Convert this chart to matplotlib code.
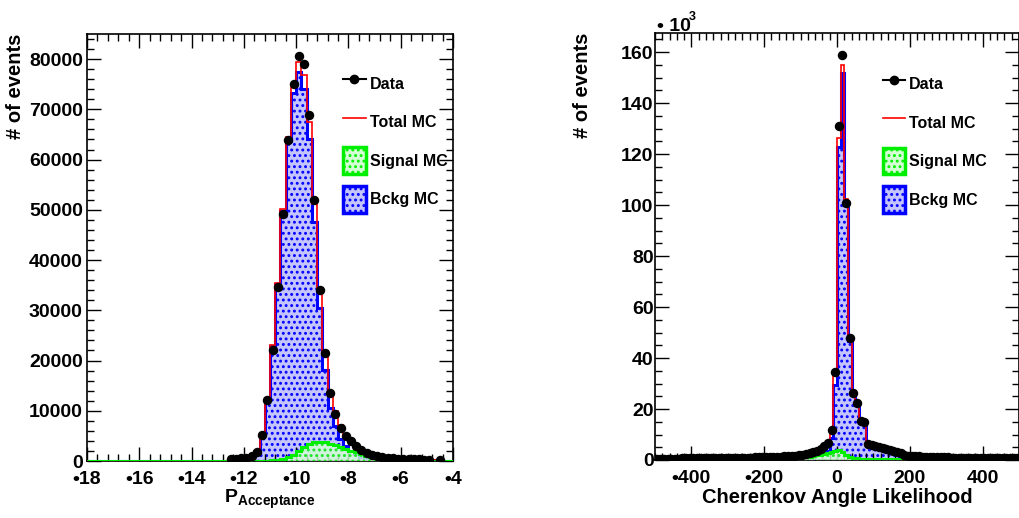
import numpy as np
import matplotlib.pyplot as plt
from matplotlib.patches import Patch
from matplotlib.lines import Line2D
from matplotlib.ticker import MultipleLocator

plt.rcParams['font.family'] = 'Liberation Sans'
plt.rcParams['font.weight'] = 'bold'
plt.rcParams['axes.labelweight'] = 'bold'
plt.rcParams['mathtext.fontset'] = 'custom'
plt.rcParams['mathtext.rm'] = 'Liberation Sans:bold'
plt.rcParams['mathtext.it'] = 'Liberation Sans:bold'
plt.rcParams['mathtext.bf'] = 'Liberation Sans:bold'
plt.rcParams['hatch.linewidth'] = 1.3

# ---- left panel: P_Acceptance, bins of 0.2 from -12.6 to -4.4
acc_lo, acc_width = -12.6, 0.2
acc_data = [300, 400, 500, 600, 900, 1800, 5200, 12100, 22000, 34600,
            49100, 63800, 75100, 80700, 79100, 68800, 51900, 34000, 21500, 13500,
            9300, 6600, 5000, 3900, 2900, 2100, 1600, 1200, 900, 700,
            600, 500, 450, 400, 350, 300, 300, 250, 250, 0, 200]
acc_total = [250, 350, 450, 600, 900, 2000, 5500, 12500, 23000, 35500,
             50200, 64500, 74400, 79500, 76900, 67500, 51200, 34200, 21800, 14000,
             10000, 7200, 5300, 4000, 3000, 2200, 1600, 1200, 900, 700,
             580, 480, 420, 360, 320, 290, 260, 240, 220, 200, 180]
acc_signal = [0, 0, 0, 0, 0, 0, 20, 50, 100, 200,
              400, 800, 1200, 2000, 2800, 3400, 3700, 3800, 3700, 3400,
              3100, 2800, 2400, 2000, 1700, 1350, 1050, 800, 650, 500,
              400, 300, 250, 200, 150, 120, 100, 80, 60, 50, 40]
acc_bckg = [250, 350, 450, 600, 900, 2000, 5480, 12450, 22900, 35300,
            49800, 63700, 73200, 77500, 74100, 64100, 47500, 30400, 18100, 10600,
            6900, 4400, 2900, 2000, 1300, 850, 550, 400, 250, 200,
            180, 180, 170, 160, 170, 170, 160, 160, 160, 150, 140]
acc_xticks = [-18, -16, -14, -12, -10, -8, -6, -4]
acc_xlabels = ['•18', '•16', '•14', '•12', '•10', '•8', '•6', '•4']
acc_yticks = [0, 10000, 20000, 30000, 40000, 50000, 60000, 70000, 80000]

# ---- right panel: Cherenkov angle likelihood, bins of 10 from -500 to 500
ch_lo, ch_width = -500, 10
ch_data = [500, 500, 520, 540, 550, 560, 580, 600, 600, 620,
           640, 650, 660, 680, 700, 720, 740, 760, 780, 800,
           820, 840, 860, 880, 900, 930, 960, 1000, 1040, 1080,
           1120, 1170, 1220, 1280, 1340, 1400, 1480, 1560, 1660, 1800,
           2000, 2300, 2700, 3100, 3700, 4500, 5500, 6800, 11800, 34600,
           131000, 158800, 101000, 47700, 26100, 22200, 15200, 15000, 6200, 5700,
           5300, 5000, 4600, 4200, 3900, 3600, 3300, 2600, 2000, 1700,
           1500, 1450, 1400, 1350, 1300, 1250, 1200, 1150, 1100, 1050,
           1000, 980, 950, 920, 900, 870, 850, 820, 800, 780,
           760, 740, 720, 700, 690, 680, 670, 660, 650, 640]
ch_total = [450, 460, 470, 480, 490, 500, 510, 520, 530, 540,
            550, 560, 570, 580, 600, 620, 640, 660, 680, 700,
            720, 740, 760, 780, 800, 830, 860, 900, 940, 980,
            1020, 1070, 1120, 1180, 1240, 1300, 1380, 1460, 1560, 1700,
            1900, 2200, 2600, 3000, 3600, 4400, 5200, 6500, 11800, 33000,
            126500, 155000, 102200, 47800, 26800, 22200, 15700, 15700, 6500, 6000,
            5500, 5200, 4800, 4400, 3700, 3500, 3300, 1800, 1600, 1500,
            1200, 1150, 1100, 1050, 1000, 950, 900, 850, 800, 750,
            700, 680, 660, 640, 620, 600, 580, 560, 540, 520,
            500, 490, 480, 470, 460, 450, 440, 430, 420, 410]
ch_signal = [50, 50, 50, 50, 50, 50, 50, 50, 50, 50,
             50, 50, 50, 50, 50, 50, 50, 50, 300, 300,
             300, 300, 300, 300, 300, 300, 300, 300, 300, 300,
             300, 300, 300, 300, 300, 300, 400, 500, 600, 800,
             1000, 1100, 1300, 1500, 1800, 2100, 2500, 2900, 3300, 3600,
             3900, 3000, 2000, 1300, 900, 600, 500, 400, 350, 300,
             300, 300, 300, 300, 300, 300, 300, 300, 300, 300,
             200, 200, 200, 200, 200, 200, 200, 200, 200, 200,
             150, 150, 150, 150, 150, 150, 150, 150, 150, 150,
             100, 100, 100, 100, 100, 100, 100, 100, 100, 100]
ch_bckg = [400, 410, 420, 430, 440, 450, 460, 470, 480, 490,
           500, 510, 520, 530, 550, 570, 590, 610, 380, 400,
           420, 440, 460, 480, 500, 530, 560, 600, 640, 680,
           720, 770, 820, 880, 940, 1000, 980, 960, 960, 900,
           900, 1100, 1300, 1500, 1800, 2300, 2700, 3600, 8500, 29400,
           122600, 152000, 100200, 46500, 25900, 21600, 15200, 15300, 6150, 5700,
           5200, 4900, 4500, 4100, 3400, 3200, 3000, 1500, 1300, 1200,
           1000, 950, 900, 850, 800, 750, 700, 650, 600, 550,
           550, 530, 510, 490, 470, 450, 430, 410, 390, 370,
           400, 390, 380, 370, 360, 350, 340, 330, 320, 310]
ch_xticks = [-400, -200, 0, 200, 400]
ch_xlabels = ['•400', '•200', '0', '200', '400']
ch_yticks = [0, 20000, 40000, 60000, 80000, 100000, 120000, 140000, 160000]
ch_ylabels = ['0', '20', '40', '60', '80', '100', '120', '140', '160']

legend_labels = ['Data', 'Total MC', 'Signal MC', 'Bckg MC']

BLUE = '#0000ff'
BLUE_FILL = '#c4c4ff'
GREEN = '#00ee00'
GREEN_FILL = '#d4ffd4'
RED = '#ff0000'


def pad_full(vals, lo, width, xmin, xmax):
    # put the filled bins into a histogram covering the full axis range
    nfull = int(round((xmax - xmin) / width))
    start = int(round((lo - xmin) / width))
    full = np.zeros(nfull)
    full[start:start + len(vals)] = vals
    return full


def draw_panel(ax, lo, width, xmin, xmax, data, total, signal, bckg):
    edges = np.linspace(xmin, xmax, int(round((xmax - xmin) / width)) + 1)
    tot = pad_full(total, lo, width, xmin, xmax)
    sig = pad_full(signal, lo, width, xmin, xmax)
    bkg = pad_full(bckg, lo, width, xmin, xmax)

    ax.stairs(bkg, edges, fill=True, facecolor=BLUE_FILL, edgecolor=BLUE,
              hatch='...', linewidth=0, zorder=1)
    ax.stairs(bkg, edges, color=BLUE, linewidth=2.2, zorder=2)
    ax.stairs(tot, edges, color=RED, linewidth=1.2, zorder=3)
    ax.stairs(sig, edges, fill=True, facecolor=GREEN_FILL, edgecolor=GREEN,
              hatch='...', linewidth=0, zorder=4, alpha=0.8)
    ax.stairs(sig, edges, color=GREEN, linewidth=2.2, zorder=5)

    d = np.array(data, dtype=float)
    centers = lo + width * (np.arange(len(d)) + 0.5)
    m = d > 0
    ax.errorbar(centers[m], d[m], xerr=width / 2, yerr=np.sqrt(d[m]),
                fmt='o', color='black', markersize=5.8, elinewidth=2,
                capsize=0, zorder=6)

    ax.set_xlim(xmin, xmax)
    ax.tick_params(which='both', direction='in', top=True, right=True,
                   labelsize=14, width=1)
    ax.tick_params(which='major', length=10)
    ax.tick_params(which='minor', length=5)
    ax.tick_params(axis='x', pad=7)
    ax.tick_params(axis='y', pad=3)
    for s in ax.spines.values():
        s.set_linewidth(1.2)

    handles = [Line2D([], [], color='black', marker='o', markersize=6, lw=1.5),
               Line2D([], [], color=RED, lw=1.2),
               Patch(facecolor=GREEN_FILL, edgecolor=GREEN, hatch='...', lw=2.5),
               Patch(facecolor=BLUE_FILL, edgecolor=BLUE, hatch='...', lw=2.5)]
    return handles


fig = plt.figure(figsize=(10.2, 5.18), dpi=100)

leg_kw = dict(loc='upper left', frameon=False, fontsize=11.5, handlelength=1.4,
              handleheight=2.2, handletextpad=0.25, labelspacing=0.74,
              borderpad=0, borderaxespad=0)

# left panel
ax1 = fig.add_axes([87 / 1020, 57 / 518, 366 / 1020, 427 / 518])
h = draw_panel(ax1, acc_lo, acc_width, -18, -4,
               acc_data, acc_total, acc_signal, acc_bckg)
ax1.set_ylim(0, 85000)
ax1.set_xticks(acc_xticks)
ax1.set_xticklabels(acc_xlabels)
ax1.set_yticks(acc_yticks)
ax1.set_yticklabels([str(v) for v in acc_yticks])
ax1.xaxis.set_minor_locator(MultipleLocator(0.4))
ax1.yaxis.set_minor_locator(MultipleLocator(2000))
ax1.set_xlabel(r'$\mathrm{P}_{\mathrm{Acceptance}}$', fontsize=14)
ax1.xaxis.set_label_coords(0.5, -0.062)
ax1.set_ylabel('# of events', fontsize=14.5, loc='top')
ax1.yaxis.set_label_coords(-0.17, 1.0)
ax1.legend(h, legend_labels, bbox_to_anchor=(0.70, 0.915), **leg_kw)

# right panel
ax2 = fig.add_axes([655 / 1020, 58 / 518, 364 / 1020, 427 / 518])
h = draw_panel(ax2, ch_lo, ch_width, -500, 500,
               ch_data, ch_total, ch_signal, ch_bckg)
ax2.set_ylim(0, 167500)
ax2.set_xticks(ch_xticks)
ax2.set_xticklabels(ch_xlabels)
ax2.set_yticks(ch_yticks)
ax2.set_yticklabels(ch_ylabels)
ax2.xaxis.set_minor_locator(MultipleLocator(20))
ax2.yaxis.set_minor_locator(MultipleLocator(5000))
ax2.tick_params(axis='y', pad=1)
ax2.set_xlabel('Cherenkov Angle Likelihood', fontsize=14.5)
ax2.xaxis.set_label_coords(0.5, -0.065)
ax2.set_ylabel('# of events', fontsize=14.5, loc='top')
ax2.yaxis.set_label_coords(-0.173, 1.0)
ax2.legend(h, legend_labels, bbox_to_anchor=(0.626, 0.912), **leg_kw)

fig.text(657 / 1020, 1 - 31 / 518, '• 10', fontsize=14, va='baseline')
fig.text(689 / 1020, 1 - 20 / 518, '3', fontsize=9, va='baseline')

fig.savefig('out.png', dpi=100)
